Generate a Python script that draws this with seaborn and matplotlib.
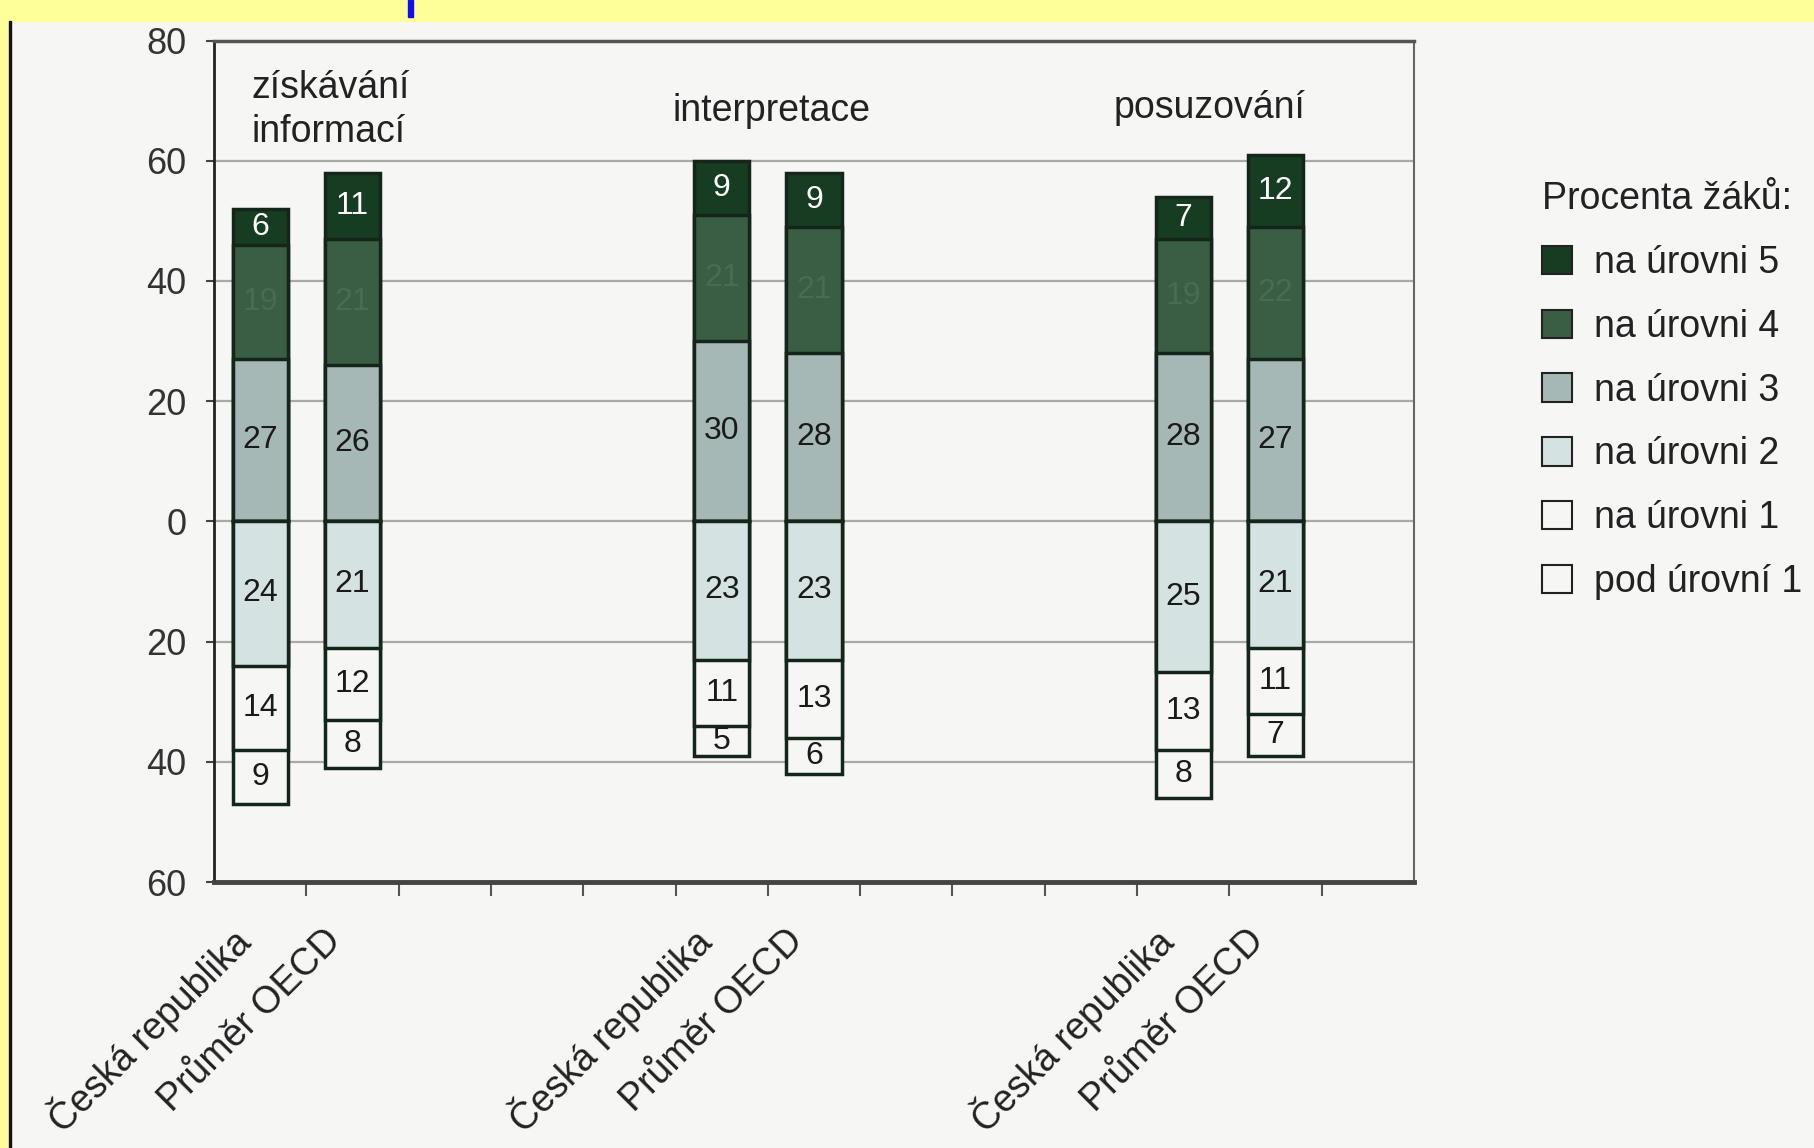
import matplotlib.pyplot as plt
import matplotlib.patches as mpatches
import numpy as np
import pandas as pd
import seaborn as sns

# Domains, groups and proficiency levels.
domains = ['získávání\ninformací', 'interpretace', 'posuzování']
groups = ['Česká republika', 'Průměr OECD']
level_names = ['na úrovni 5', 'na úrovni 4', 'na úrovni 3',
               'na úrovni 2', 'na úrovni 1', 'pod úrovní 1']

# Percent of students, order: (domain, group) pairs.
level5 = [6, 11, 9, 9, 7, 12]
level4 = [19, 21, 21, 21, 19, 22]
level3 = [27, 26, 30, 28, 28, 27]
level2 = [24, 21, 23, 23, 25, 21]
level1 = [14, 12, 11, 13, 13, 11]
below1 = [9, 8, 5, 6, 8, 7]

# Empty slots after each domain pair.
gaps = [3, 3, 1]
y_ticks = [-60, -40, -20, 0, 20, 40, 60, 80]

level_colors = ['#163d22', '#3a5e44', '#a6b8b6', '#d4e3e1', '#f6f7f5', '#f6f7f5']
label_colors = ['#ffffff', '#476c52', '#1a1a1a', '#1a1a1a', '#1a1a1a', '#1a1a1a']
edge = '#14261a'
bg = '#f6f7f5'

plt.rcParams['font.family'] = ['Liberation Sans', 'DejaVu Sans']

# Build slots along the x axis.
order, bar_keys = [], []
for di, d in enumerate(domains):
    for g in groups:
        key = '{}|{}'.format(di, g)
        order.append(key)
        bar_keys.append(key)
    for k in range(gaps[di]):
        order.append('gap{}_{}'.format(di, k))

df = pd.DataFrame({'slot': bar_keys,
                   'l5': level5, 'l4': level4, 'l3': level3,
                   'l2': level2, 'l1': level1, 'b1': below1})
df['c5'] = df.l3 + df.l4 + df.l5
df['c4'] = df.l3 + df.l4
df['c3'] = df.l3
df['cb'] = -(df.l2 + df.l1 + df.b1)
df['c1'] = -(df.l2 + df.l1)
df['c2'] = -df.l2

fig = plt.figure(figsize=(18.14, 11.48), dpi=100, facecolor=bg)
ax = fig.add_axes([0.118, 0.2317, 0.6615, 0.733])
ax.set_facecolor(bg)

# Overlapping cumulative bars give the stacked look.
for col, color in [('c5', level_colors[0]), ('c4', level_colors[1]), ('c3', level_colors[2]),
                   ('cb', level_colors[5]), ('c1', level_colors[4]), ('c2', level_colors[3])]:
    sns.barplot(data=df, x='slot', y=col, order=order, color=color, saturation=1,
                width=0.6, edgecolor=edge, linewidth=2.5, errorbar=None, ax=ax)

# Segment labels.
pos = [order.index(k) for k in bar_keys]
for i, x in enumerate(pos):
    r = df.iloc[i]
    mids = [r.l3 + r.l4 + r.l5 / 2, r.l3 + r.l4 / 2, r.l3 / 2,
            -r.l2 / 2, -(r.l2 + r.l1 / 2), -(r.l2 + r.l1 + r.b1 / 2)]
    vals = [r.l5, r.l4, r.l3, r.l2, r.l1, r.b1]
    for j in range(6):
        ax.text(x, mids[j], str(int(vals[j])), ha='center', va='center',
                fontsize=23, color=label_colors[j])

# Domain titles.
ax.text(-0.09, 68.4, domains[0], ha='left', va='center', fontsize=27,
        color='#222222', linespacing=1.3)
ax.text(5.54, 68.2, domains[1], ha='center', va='center', fontsize=27, color='#222222')
ax.text(10.28, 68.8, domains[2], ha='center', va='center', fontsize=27, color='#222222')

# Axes formatting.
ax.set_xlim(-0.5, len(order) - 0.5)
ax.set_ylim(-60, 80)
ax.set_yticks(y_ticks)
ax.set_yticklabels([str(abs(t)) for t in y_ticks], fontsize=26, color='#333333')
ax.set_xticks(np.arange(0.5, len(order) - 1, 1))
ax.set_xticklabels([])
ax.tick_params(axis='x', length=10, width=1.5, color='#555555', direction='out')
ax.tick_params(axis='y', length=6, width=1.5, color='#444444', pad=14)
ax.set_xlabel('')
ax.set_ylabel('')
ax.yaxis.grid(True, color='#a8aaa4', lw=1.6)
ax.xaxis.grid(False)
ax.set_axisbelow(True)
for side, c, lw in [('top', '#555555', 2.5), ('left', '#222222', 2),
                    ('bottom', '#444444', 3.5), ('right', '#666666', 1.5)]:
    ax.spines[side].set_color(c)
    ax.spines[side].set_linewidth(lw)

# Rotated group labels under each bar.
bar_labels = [g for d in domains for g in groups]
for x, lab in zip(pos, bar_labels):
    ax.annotate(lab, xy=(x, 0), xycoords=ax.get_xaxis_transform(),
                xytext=(-12, -38), textcoords='offset points', rotation=45,
                ha='right', va='center', rotation_mode='anchor',
                fontsize=27, color='#222222', annotation_clip=False)

# Legend.
handles = [mpatches.Patch(facecolor=c, edgecolor='#222222', linewidth=1.5) for c in level_colors]
leg = fig.legend(handles, level_names, title='Procenta žáků:', loc='upper left',
                 bbox_to_anchor=(0.85, 0.842), frameon=False, fontsize=27,
                 title_fontsize=27, handlelength=0.8, handleheight=0.8,
                 labelspacing=0.74, handletextpad=0.6, borderpad=0, borderaxespad=0)
leg._legend_box.align = 'left'
for t in leg.get_texts():
    t.set_color('#222222')
leg.get_title().set_color('#222222')

# Yellow page frame.
fig.patches.append(mpatches.Rectangle((0, 1 - 21 / 1148), 1, 21 / 1148,
                                      transform=fig.transFigure, color='#ffff99', zorder=0))
fig.patches.append(mpatches.Rectangle((0, 0), 9 / 1814, 1, transform=fig.transFigure,
                                      color='#ffff99', zorder=0))
fig.patches.append(mpatches.Rectangle((9 / 1814, 0), 2 / 1814, 1 - 21 / 1148,
                                      transform=fig.transFigure, color='#111111', zorder=1))
fig.patches.append(mpatches.Rectangle((408 / 1814, 1 - 17 / 1148), 5 / 1814, 17 / 1148,
                                      transform=fig.transFigure, color='#1010ee', zorder=1))

fig.savefig('out.png', dpi=100, facecolor=bg)
